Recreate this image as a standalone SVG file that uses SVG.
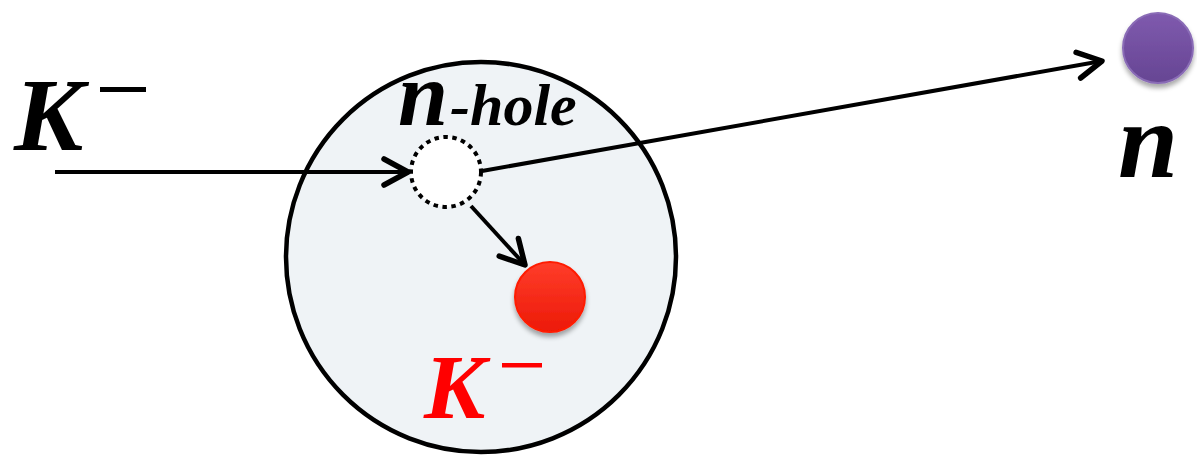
<svg xmlns="http://www.w3.org/2000/svg" width="1197" height="456" viewBox="0 0 1197 456">
<style>
.conn{stroke:#000;stroke-width:4;fill:none}
.lbl{font-family:"Liberation Serif","DejaVu Serif",serif;font-weight:bold;font-style:italic}
</style>
<defs>
<marker id="arr" viewBox="0 0 32 32" refX="29" refY="16" markerWidth="32" markerHeight="32" markerUnits="userSpaceOnUse" orient="auto">
<path d="M5,3 L29,16 L5,29" stroke="#000" stroke-width="5.5" fill="none" stroke-linecap="round" stroke-linejoin="round"/>
</marker>
<linearGradient id="gRed" x1="0" y1="0" x2="0" y2="1">
<stop offset="0" stop-color="#ff3d2a"/>
<stop offset="1" stop-color="#ec1a08"/>
</linearGradient>
<linearGradient id="gPur" x1="0" y1="0" x2="0" y2="1">
<stop offset="0" stop-color="#7f5aae"/>
<stop offset="1" stop-color="#664593"/>
</linearGradient>
<filter id="sh" x="-30%" y="-30%" width="160%" height="170%">
<feGaussianBlur in="SourceAlpha" stdDeviation="2.5"/>
<feOffset dx="0" dy="4" result="b"/>
<feComponentTransfer><feFuncA type="linear" slope="0.35"/></feComponentTransfer>
<feMerge><feMergeNode/><feMergeNode in="SourceGraphic"/></feMerge>
</filter>
</defs>
<rect width="1197" height="456" fill="#fff"/>
<g id="nucleus">
<circle cx="481" cy="257" r="195" fill="#eff3f6" stroke="#000" stroke-width="4.5"/>
</g>
<g id="hole">
<circle cx="446" cy="172" r="35" fill="#fff" stroke="#000" stroke-width="4" stroke-dasharray="4.5 4.5"/>
<text class="lbl" x="398" y="125" font-size="90">n<tspan font-size="60" dx="2">-hole</tspan></text>
</g>
<g id="kaon-bound">
<circle cx="550" cy="297" r="35" fill="url(#gRed)" stroke="#ff1a00" stroke-width="2" filter="url(#sh)"/>
<text class="lbl" x="424" y="418" font-size="92" fill="#ff0000">K</text>
<rect x="502" y="363" width="40" height="4.5" fill="#ff0000"/>
</g>
<g id="kaon-in">
<text class="lbl" x="14" y="150" font-size="104">K</text>
<rect x="100" y="87" width="46" height="5" fill="#000"/>
</g>
<g id="neutron">
<circle cx="1158" cy="48" r="35" fill="url(#gPur)" stroke="#8a6cb6" stroke-width="2" filter="url(#sh)"/>
<text class="lbl" x="1118" y="177" font-size="108">n</text>
</g>
<g id="connectors">
<line class="conn" x1="55" y1="172" x2="408" y2="172" marker-end="url(#arr)"/>
<line class="conn" x1="482" y1="171" x2="1102" y2="61" marker-end="url(#arr)"/>
<line class="conn" x1="471" y1="206" x2="525" y2="265" marker-end="url(#arr)"/>
</g>
</svg>
